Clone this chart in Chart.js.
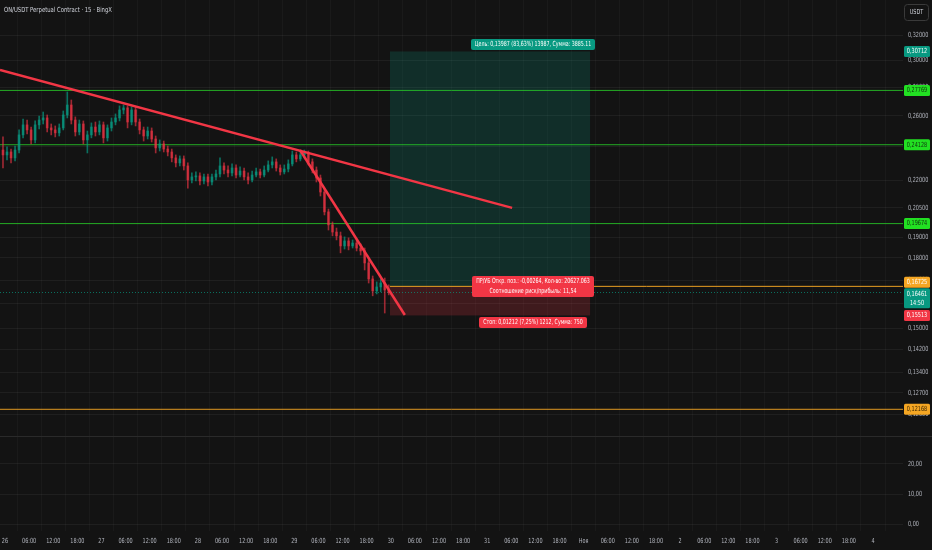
<!DOCTYPE html>
<html>
<head>
<meta charset="utf-8">
<script src="https://cdn.jsdelivr.net/npm/chart.js@4.4.1/dist/chart.umd.min.js"></script>
<style>
  html, body { margin: 0; padding: 0; background: #131313; }
  canvas { display: block; }
</style>
</head>
<body>
<canvas id="chart" width="932" height="550"></canvas>
<script>
// hourly candles, hours counted from 26 Oct 00:00 (first candle = 25 Oct 23:00)
const candleStartHour = -1;
const opens = [
  0.2380, 0.2350, 0.2368, 0.2332, 0.2380, 0.2475, 0.2540, 0.2507, 0.2443, 0.2540,
  0.2572, 0.2586, 0.2520, 0.2507, 0.2488, 0.2520, 0.2606, 0.2674, 0.2572, 0.2494,
  0.2546, 0.2443, 0.2475, 0.2526, 0.2494, 0.2540, 0.2456, 0.2520, 0.2559, 0.2586,
  0.2640, 0.2654, 0.2559, 0.2640, 0.2559, 0.2507, 0.2468, 0.2500, 0.2449, 0.2393,
  0.2418, 0.2386, 0.2368, 0.2332, 0.2302, 0.2326, 0.2284, 0.2203, 0.2220, 0.2226,
  0.2197, 0.2220, 0.2191, 0.2220, 0.2237, 0.2284, 0.2260, 0.2243, 0.2272, 0.2231,
  0.2254, 0.2220, 0.2203, 0.2231, 0.2249, 0.2231, 0.2260, 0.2290, 0.2308, 0.2272,
  0.2249, 0.2266, 0.2296, 0.2350, 0.2326, 0.2350, 0.2362, 0.2308, 0.2260, 0.2214,
  0.2135, 0.2028, 0.1961, 0.1925, 0.1906, 0.1857, 0.1881, 0.1857, 0.1871, 0.1847,
  0.1833, 0.1777, 0.1705, 0.1653, 0.1670, 0.1687, 0.1657
];
const highs = [
  0.2462, 0.2399, 0.2386, 0.2405, 0.2507, 0.2579, 0.2572, 0.2526, 0.2566, 0.2599,
  0.2626, 0.2606, 0.2546, 0.2533, 0.2546, 0.2633, 0.2766, 0.2709, 0.2593, 0.2572,
  0.2566, 0.2500, 0.2553, 0.2559, 0.2566, 0.2559, 0.2540, 0.2586, 0.2613, 0.2668,
  0.2674, 0.2668, 0.2661, 0.2661, 0.2579, 0.2526, 0.2526, 0.2520, 0.2468, 0.2443,
  0.2436, 0.2405, 0.2386, 0.2350, 0.2344, 0.2344, 0.2302, 0.2243, 0.2249, 0.2243,
  0.2237, 0.2237, 0.2237, 0.2260, 0.2332, 0.2302, 0.2284, 0.2296, 0.2290, 0.2278,
  0.2272, 0.2243, 0.2254, 0.2272, 0.2266, 0.2284, 0.2314, 0.2338, 0.2326, 0.2290,
  0.2290, 0.2320, 0.2374, 0.2368, 0.2368, 0.2380, 0.2374, 0.2326, 0.2278, 0.2231,
  0.2152, 0.2043, 0.1976, 0.1945, 0.1925, 0.1901, 0.1896, 0.1886, 0.1886, 0.1867,
  0.1847, 0.1791, 0.1718, 0.1692, 0.1705, 0.1709, 0.1679
];
const lows = [
  0.2272, 0.2320, 0.2302, 0.2314, 0.2362, 0.2456, 0.2481, 0.2418, 0.2424, 0.2513,
  0.2546, 0.2494, 0.2475, 0.2462, 0.2468, 0.2507, 0.2586, 0.2546, 0.2468, 0.2475,
  0.2418, 0.2362, 0.2456, 0.2468, 0.2475, 0.2424, 0.2436, 0.2500, 0.2540, 0.2566,
  0.2613, 0.2520, 0.2540, 0.2533, 0.2481, 0.2436, 0.2449, 0.2430, 0.2362, 0.2374,
  0.2368, 0.2344, 0.2308, 0.2278, 0.2284, 0.2260, 0.2157, 0.2186, 0.2197, 0.2174,
  0.2180, 0.2169, 0.2174, 0.2203, 0.2220, 0.2237, 0.2220, 0.2226, 0.2214, 0.2220,
  0.2203, 0.2180, 0.2191, 0.2220, 0.2214, 0.2220, 0.2249, 0.2272, 0.2254, 0.2231,
  0.2237, 0.2249, 0.2284, 0.2308, 0.2314, 0.2332, 0.2290, 0.2243, 0.2191, 0.2113,
  0.2012, 0.1935, 0.1906, 0.1886, 0.1824, 0.1842, 0.1838, 0.1847, 0.1833, 0.1814,
  0.1745, 0.1687, 0.1632, 0.1640, 0.1649, 0.1561, 0.1636
];
const closes = [
  0.2350, 0.2368, 0.2332, 0.2380, 0.2475, 0.2540, 0.2507, 0.2443, 0.2540, 0.2572,
  0.2586, 0.2520, 0.2507, 0.2488, 0.2520, 0.2606, 0.2674, 0.2572, 0.2494, 0.2546,
  0.2443, 0.2475, 0.2526, 0.2494, 0.2540, 0.2456, 0.2520, 0.2559, 0.2586, 0.2640,
  0.2654, 0.2559, 0.2640, 0.2559, 0.2507, 0.2468, 0.2500, 0.2449, 0.2393, 0.2418,
  0.2386, 0.2368, 0.2332, 0.2302, 0.2326, 0.2284, 0.2203, 0.2220, 0.2226, 0.2197,
  0.2220, 0.2191, 0.2220, 0.2237, 0.2284, 0.2260, 0.2243, 0.2272, 0.2231, 0.2254,
  0.2220, 0.2203, 0.2231, 0.2249, 0.2231, 0.2260, 0.2290, 0.2308, 0.2272, 0.2249,
  0.2266, 0.2296, 0.2350, 0.2326, 0.2350, 0.2362, 0.2308, 0.2260, 0.2214, 0.2135,
  0.2028, 0.1961, 0.1925, 0.1906, 0.1857, 0.1881, 0.1857, 0.1871, 0.1847, 0.1833,
  0.1777, 0.1705, 0.1653, 0.1670, 0.1687, 0.1657, 0.16461
];

const timeTickLabels = [
  '26', '06:00', '12:00', '18:00', '27', '06:00', '12:00', '18:00',
  '28', '06:00', '12:00', '18:00', '29', '06:00', '12:00', '18:00',
  '30', '06:00', '12:00', '18:00', '31', '06:00', '12:00', '18:00',
  'Ноя', '06:00', '12:00', '18:00', '2', '06:00', '12:00', '18:00',
  '3', '06:00', '12:00', '18:00', '4'
];
const priceTicks = [0.32, 0.30, 0.28, 0.26, 0.24, 0.22, 0.205, 0.19, 0.18, 0.17, 0.16, 0.15, 0.142, 0.134, 0.127, 0.12];
const lowerTicks = [0, 10, 20];

// drawings
const greenLevels = [0.27769, 0.24128, 0.19674];
const orangeLevel = 0.12168;
const targetPrice = 0.30712;
const entryPrice = 0.16725;
const stopPrice = 0.15513;
const lastPrice = 0.16461;
const positionHours = [95.8, 145.6];
const trendA = [{ x: -1.25, y: 0.2928 }, { x: 126.2, y: 0.2049 }];
const trendB = [{ x: 73.4, y: 0.2380 }, { x: 99.5, y: 0.1553 }];

const X_MIN = -1.244, X_MAX = 223.47;
const FONT = "'Liberation Sans Narrow', 'DejaVu Sans Condensed', Roboto, sans-serif";
const UP = 'rgba(8,153,129,0.7)';
const DOWN = 'rgba(242,54,69,0.62)';
const TXT = '#b2b5be';
const SX = 0.78; // horizontal squeeze of the small axis text

const candleX = opens.map((_, i) => candleStartHour + i + 0.5);
const candleColors = closes.map((c, i) => (c >= opens[i] ? UP : DOWN));
const fmt = v => v.toFixed(5).replace('.', ',');

function hline(price, color, from, to, dash, order) {
  return {
    type: 'line', data: [{ x: from, y: price }, { x: to, y: price }],
    borderColor: color, borderWidth: 1, borderDash: dash || [], pointRadius: 0, order: order
  };
}

function text(ctx, s, x, y, align, sx) {
  ctx.save();
  ctx.translate(x, y);
  ctx.scale(sx, 1);
  ctx.textAlign = align;
  ctx.textBaseline = 'middle';
  ctx.fillText(s, 0, 0);
  ctx.restore();
}

function box(ctx, cx, cy, lines, bg, fg, sx) {
  ctx.font = '7px ' + FONT;
  const w = Math.max(...lines.map(t => ctx.measureText(t).width)) * sx + 8;
  const h = lines.length * 10 + 1;
  ctx.fillStyle = bg;
  ctx.beginPath();
  ctx.roundRect(Math.round(cx - w / 2), Math.round(cy - h / 2), Math.round(w), h, 2);
  ctx.fill();
  ctx.fillStyle = fg;
  lines.forEach((t, i) => text(ctx, t, cx, cy - h / 2 + 0.5 + 10 * (i + 0.5), 'center', sx));
}

function axisTag(ctx, top, lines, bg, fg) {
  const h = lines.length * 9 + 2;
  ctx.fillStyle = bg;
  ctx.beginPath();
  ctx.roundRect(904, top, 26, h, 1.5);
  ctx.fill();
  ctx.fillStyle = fg;
  ctx.font = '7px ' + FONT;
  lines.forEach((t, i) => text(ctx, t, 917, top + 1 + 9 * (i + 0.5), 'center', SX));
}

const overlay = {
  id: 'overlay',
  beforeDatasetsDraw(chart) {
    const { ctx, scales: { x, y, v } } = chart;
    const x0 = x.getPixelForValue(positionHours[0]);
    const x1 = x.getPixelForValue(positionHours[1]);
    const yT = y.getPixelForValue(targetPrice);
    const yE = y.getPixelForValue(entryPrice);
    const yS = y.getPixelForValue(stopPrice);
    ctx.save();
    ctx.fillStyle = 'rgba(8,153,129,0.2)';
    ctx.fillRect(x0, yT, x1 - x0, yE - yT);
    ctx.fillStyle = 'rgba(242,54,69,0.2)';
    ctx.fillRect(x0, yE, x1 - x0, yS - yE);
    // pane separator
    ctx.fillStyle = '#2a2a2a';
    ctx.fillRect(0, Math.round(v.top), chart.width, 1);
    ctx.restore();
  },
  afterDraw(chart) {
    const { ctx, scales: { x, y, v } } = chart;
    ctx.save();
    ctx.font = '7px ' + FONT;

    // axis tick labels
    ctx.fillStyle = TXT;
    x.ticks.forEach((t, i) => text(ctx, timeTickLabels[i], x.getPixelForValue(t.value), 541, 'center', SX));
    y.ticks.forEach(t => text(ctx, fmt(t.value), 908, y.getPixelForValue(t.value), 'left', SX));
    v.ticks.forEach(t => text(ctx, t.value.toFixed(2).replace('.', ','), 908, v.getPixelForValue(t.value), 'left', SX));

    // title
    ctx.fillStyle = '#d1d4dc';
    text(ctx, 'ON/USDT Perpetual Contract · 15 · BingX', 4, 10, 'left', 0.84);

    // USDT button
    ctx.strokeStyle = '#3a3a3a';
    ctx.lineWidth = 1;
    ctx.beginPath();
    ctx.roundRect(904.5, 4.5, 24, 16, 3);
    ctx.stroke();
    ctx.fillStyle = '#d1d4dc';
    text(ctx, 'USDT', 916.5, 12.5, 'center', SX);

    // position labels
    const cx = x.getPixelForValue(131.4);
    const yT = y.getPixelForValue(targetPrice);
    const yE = y.getPixelForValue(entryPrice);
    const yS = y.getPixelForValue(stopPrice);
    box(ctx, cx, yT - 7, ['Цель: 0,13987 (83,63%) 13987, Сумма: 3885.11'], '#089981', '#ffffff', 0.75);
    box(ctx, cx, yE, ['ПР/УБ Откр. поз.: -0,00264, Кол-во: 20627.063', 'Соотношение риск/прибыль: 11,54'], '#f23645', '#ffffff', 0.75);
    box(ctx, cx, yS + 7, ['Стоп: 0,01212 (7,25%) 1212, Сумма: 750'], '#f23645', '#ffffff', 0.75);

    // price axis tags
    axisTag(ctx, y.getPixelForValue(targetPrice) - 5.5, [fmt(targetPrice)], '#089981', '#ffffff');
    greenLevels.forEach(p => axisTag(ctx, y.getPixelForValue(p) - 5.5, [fmt(p)], '#22e022', '#10320f'));
    const eTop = y.getPixelForValue(entryPrice) - 9.5;
    axisTag(ctx, eTop, [fmt(entryPrice)], '#f5a623', '#ffffff');
    axisTag(ctx, eTop + 11.5, [fmt(lastPrice), '14:50'], '#089981', '#ffffff');
    axisTag(ctx, y.getPixelForValue(stopPrice) - 5.5, [fmt(stopPrice)], '#f23645', '#ffffff');
    axisTag(ctx, y.getPixelForValue(orangeLevel) - 5.5, [fmt(orangeLevel)], '#f5a623', '#3b2600');
    ctx.restore();
  }
};

new Chart(document.getElementById('chart'), {
  type: 'bar',
  data: {
    datasets: [
      { type: 'line', data: trendA, borderColor: '#f23645', borderWidth: 2.5, pointRadius: 0, order: 0 },
      { type: 'line', data: trendB, borderColor: '#f23645', borderWidth: 2.5, pointRadius: 0, order: 0 },
      {
        type: 'bar', data: candleX.map((cx, i) => ({ x: cx, y: [opens[i], closes[i]] })),
        backgroundColor: candleColors, barThickness: 2, grouped: false, minBarLength: 1, order: 1
      },
      {
        type: 'bar', data: candleX.map((cx, i) => ({ x: cx, y: [lows[i], highs[i]] })),
        backgroundColor: candleColors, barThickness: 1, grouped: false, order: 2
      },
      ...greenLevels.map(p => hline(p, 'rgba(40,210,40,0.8)', X_MIN, X_MAX, null, 3)),
      hline(orangeLevel, 'rgba(245,166,35,0.9)', X_MIN, X_MAX, null, 3),
      hline(entryPrice, 'rgba(245,166,35,0.95)', positionHours[0], X_MAX, null, 3),
      hline(lastPrice, 'rgba(8,153,129,0.7)', X_MIN, X_MAX, [1, 2], 3)
    ]
  },
  options: {
    responsive: false,
    animation: false,
    layout: { padding: 0 },
    plugins: { legend: { display: false }, tooltip: { enabled: false } },
    scales: {
      x: {
        type: 'linear', min: X_MIN, max: X_MAX, offset: false,
        afterFit: s => { s.height = 19; s.paddingLeft = 0; s.paddingRight = 0; },
        afterBuildTicks: s => { s.ticks = timeTickLabels.map((_, i) => ({ value: i * 6 })); },
        ticks: { display: false },
        grid: { color: 'rgba(255,255,255,0.03)', drawTicks: false },
        border: { display: false }
      },
      y: {
        type: 'logarithmic', position: 'right', stack: 'pane', stackWeight: 436,
        min: 0.11356, max: 0.35088,
        afterFit: s => { s.width = 29; s.paddingTop = 0; s.paddingBottom = 0; },
        afterBuildTicks: s => { s.ticks = priceTicks.map(v => ({ value: v })); },
        ticks: { display: false },
        grid: { color: 'rgba(255,255,255,0.055)', drawTicks: false },
        border: { display: false }
      },
      v: {
        type: 'linear', position: 'right', stack: 'pane', stackWeight: 95,
        min: -2.33, max: 29.33,
        afterFit: s => { s.width = 29; s.paddingTop = 0; s.paddingBottom = 0; },
        afterBuildTicks: s => { s.ticks = lowerTicks.map(v => ({ value: v })); },
        ticks: { display: false },
        grid: { color: 'rgba(255,255,255,0.05)', drawTicks: false },
        border: { display: false }
      }
    }
  },
  plugins: [overlay]
});
</script>
</body>
</html>
